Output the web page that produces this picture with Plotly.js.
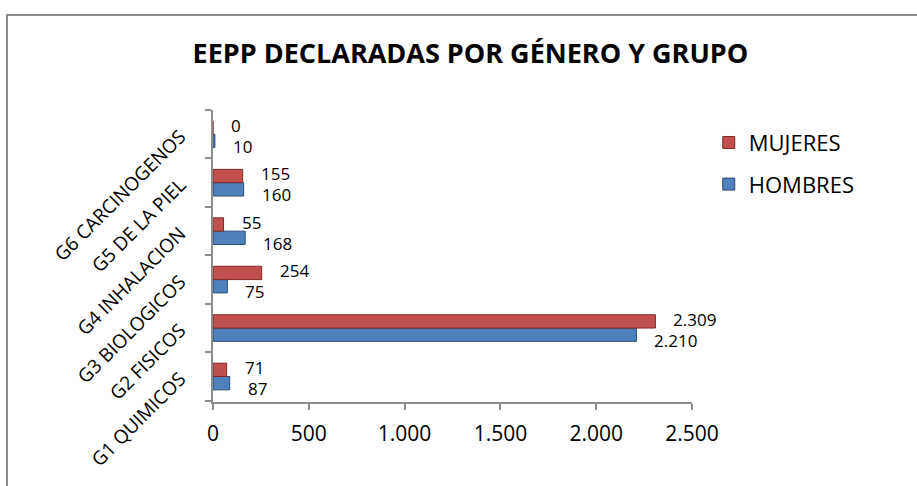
<!DOCTYPE html>
<html>
<head>
<meta charset="utf-8">
<script src="https://cdn.plot.ly/plotly-3.0.1.min.js"></script>
<style>
  html, body { margin: 0; padding: 0; background: #fff; overflow: hidden; }
  #chart { width: 917px; height: 486px; }
  #frame { position: absolute; left: 6px; top: 14px; width: 1000px; height: 600px;
           border: 2px solid #8c8c8c; pointer-events: none; }
</style>
</head>
<body>
<div id="chart"></div>
<div id="frame"></div>
<script>
const categories = ["G1 QUIMICOS", "G2 FISICOS", "G3 BIOLOGICOS", "G4 INHALACION", "G5 DE LA PIEL", "G6 CARCINOGENOS"];
const hombres = [87, 2210, 75, 168, 160, 10];
const mujeres = [71, 2309, 254, 55, 155, 0];
const tickValues = [0, 500, 1000, 1500, 2000, 2500];

const FONT = "Open Sans, Liberation Sans, sans-serif";

function fmt(v) {
  return String(v).replace(/\B(?=(\d{3})+(?!\d))/g, ".");
}

const traces = [
  {
    type: "bar", orientation: "h", name: "HOMBRES", legendgroup: "h", legendrank: 2,
    y: categories, x: hombres,
    marker: { color: "#4F81BD", line: { color: "#2C4D75", width: 1 } }
  },
  {
    type: "bar", orientation: "h", name: "MUJERES", legendgroup: "m", legendrank: 1,
    y: categories, x: mujeres,
    marker: { color: "#C0504D", line: { color: "#7F2B29", width: 1 } }
  }
];

const annotations = [];
categories.forEach((c, i) => {
  annotations.push({
    x: mujeres[i], y: c, xref: "x", yref: "y", text: fmt(mujeres[i]),
    showarrow: false, xanchor: "left", yanchor: "middle", xshift: 16, yshift: 9,
    font: { family: FONT, size: 17, color: "#000" }
  });
  annotations.push({
    x: hombres[i], y: c, xref: "x", yref: "y", text: fmt(hombres[i]),
    showarrow: false, xanchor: "left", yanchor: "middle", xshift: 16, yshift: -12,
    font: { family: FONT, size: 17, color: "#000" }
  });
});

const layout = {
  width: 917, height: 486,
  margin: { l: 213, r: 225, t: 110, b: 84 },
  paper_bgcolor: "#fff", plot_bgcolor: "#fff",
  separators: ",.",
  font: { family: FONT, size: 16, color: "#000" },
  title: {
    text: "<b>EEPP DECLARADAS POR GÉNERO Y GRUPO</b>",
    font: { family: FONT, size: 27, color: "#000" },
    x: 0.513, xanchor: "center", y: 0.89, yanchor: "middle"
  },
  barmode: "group", bargap: 0.45, bargroupgap: 0,
  showlegend: true,
  legend: {
    x: 1.035, xanchor: "left", y: 0.96, yanchor: "top",
    traceorder: "grouped",
    font: { family: FONT, size: 22, color: "#000" },
    itemwidth: 30, tracegroupgap: 10
  },
  annotations: annotations,
  xaxis: {
    range: [0, 2500], tickvals: tickValues, tickformat: ",",
    showgrid: false, zeroline: false,
    showline: true, linecolor: "#8c8c8c", linewidth: 2,
    ticks: "outside", ticklen: 6, tickcolor: "#8c8c8c", tickwidth: 2,
    ticklabelstandoff: 6,
    tickfont: { family: FONT, size: 21, color: "#000" }
  },
  yaxis: {
    type: "category", showgrid: false, zeroline: false,
    showline: true, linecolor: "#8c8c8c", linewidth: 2,
    ticks: "outside", tickson: "boundaries", ticklen: 6, tickcolor: "#8c8c8c", tickwidth: 2,
    tickangle: -45, ticklabelstandoff: 27,
    tickfont: { family: FONT, size: 19, color: "#000" }
  }
};

Plotly.newPlot("chart", traces, layout, { displayModeBar: false, staticPlot: true });
</script>
</body>
</html>
